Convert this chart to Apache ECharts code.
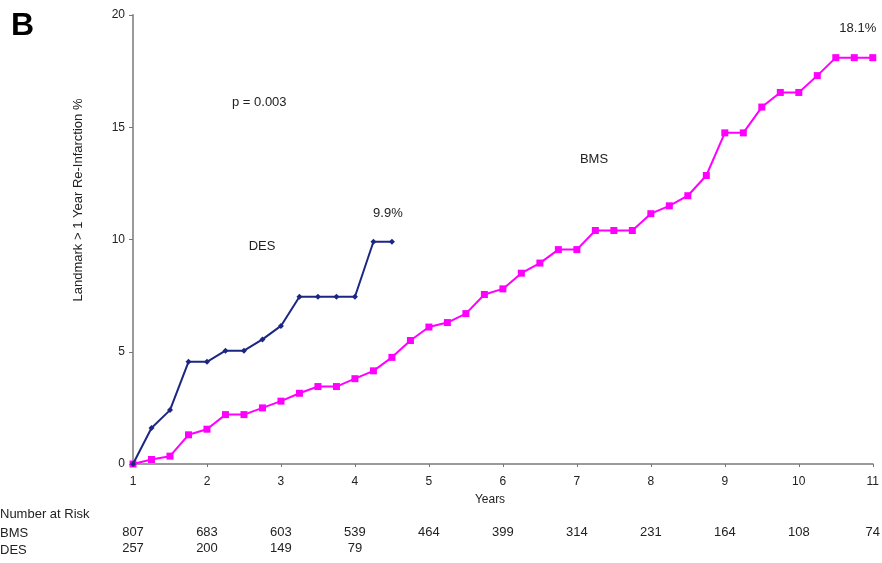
<!DOCTYPE html>
<html>
<head>
<meta charset="utf-8">
<script src="https://cdn.jsdelivr.net/npm/echarts@6/dist/echarts.min.js"></script>
<style>
  html, body { margin: 0; padding: 0; background: #fff; }
  #chart { width: 882px; height: 563px; }
</style>
</head>
<body>
<div id="chart"></div>
<script>
// Landmark analysis beyond 1 year: cumulative re-infarction (%) by stent type
const years = [1, 1.25, 1.5, 1.75, 2, 2.25, 2.5, 2.75, 3, 3.25, 3.5, 3.75, 4, 4.25, 4.5,
  4.75, 5, 5.25, 5.5, 5.75, 6, 6.25, 6.5, 6.75, 7, 7.25, 7.5, 7.75, 8, 8.25, 8.5, 8.75,
  9, 9.25, 9.5, 9.75, 10, 10.25, 10.5, 10.75, 11];

const desValues = [0, 1.6, 2.4, 4.55, 4.55, 5.05, 5.05, 5.55, 6.15, 7.45, 7.45, 7.45, 7.45, 9.9, 9.9];

const bmsValues = [0, 0.2, 0.35, 1.3, 1.55, 2.2, 2.2, 2.5, 2.8, 3.15, 3.45, 3.45, 3.8, 4.15, 4.75,
  5.5, 6.1, 6.3, 6.7, 7.55, 7.8, 8.5, 8.95, 9.55, 9.55, 10.4, 10.4, 10.4, 11.15, 11.5, 11.95, 12.85,
  14.75, 14.75, 15.9, 16.55, 16.55, 17.3, 18.1, 18.1, 18.1];

// Number at risk table
const riskYears = [1, 2, 3, 4, 5, 6, 7, 8, 9, 10, 11];
const bmsAtRisk = [807, 683, 603, 539, 464, 399, 314, 231, 164, 108, 74];
const desAtRisk = [257, 200, 149, 79];

const font = 'Liberation Sans, Arial, sans-serif';
const textColor = '#222';

const chart = echarts.init(document.getElementById('chart'), null, { renderer: 'canvas' });

const desData = desValues.map((v, i) => [years[i], v]);
const bmsData = bmsValues.map((v, i) => [years[i], v]);

chart.setOption({
  animation: false,
  backgroundColor: '#fff',
  grid: { left: 133, right: 5, top: 15, bottom: 99, containLabel: false },
  xAxis: {
    type: 'value', min: 1, max: 11, interval: 1,
    axisLine: { lineStyle: { color: '#9a9a9a', width: 2 } },
    axisTick: { show: true, length: 3, lineStyle: { color: '#777' } },
    axisLabel: { color: textColor, fontFamily: font, fontSize: 12, margin: 12 },
    splitLine: { show: false }
  },
  yAxis: {
    type: 'value', min: 0, max: 20, interval: 5,
    axisLine: { show: true, lineStyle: { color: '#9a9a9a', width: 2 } },
    axisTick: { show: true, length: 4, lineStyle: { color: '#777' } },
    axisLabel: { color: textColor, fontFamily: font, fontSize: 12, margin: 8 },
    splitLine: { show: false }
  },
  series: [
    {
      name: 'BMS', type: 'line', data: bmsData,
      symbol: 'rect', symbolSize: 7,
      itemStyle: { color: '#ff00ff' },
      lineStyle: { color: '#ff00ff', width: 2 },
      z: 2
    },
    {
      name: 'DES', type: 'line', data: desData,
      symbol: 'diamond', symbolSize: 6,
      itemStyle: { color: '#1c2683' },
      lineStyle: { color: '#1c2683', width: 2 },
      z: 3
    }
  ]
});

// Labels anchored to data coordinates
const px = (x, y) => chart.convertToPixel({ gridIndex: 0 }, [x, y]);
const desEnd = px(years[desValues.length - 1], desValues[desValues.length - 1]);
const bmsEnd = px(years[bmsValues.length - 1], bmsValues[bmsValues.length - 1]);

const graphics = [
  { type: 'text', x: 11, y: 26, style: { text: 'B', font: 'bold 32px ' + font, fill: '#000', verticalAlign: 'middle' } },
  {
    type: 'text', x: 78, y: 200, rotation: Math.PI / 2,
    style: { text: 'Landmark > 1 Year Re-Infarction %', font: '13px ' + font, fill: textColor, align: 'center', verticalAlign: 'middle' }
  },
  { type: 'text', x: 232, y: 102, style: { text: 'p = 0.003', font: '13px ' + font, fill: textColor, verticalAlign: 'middle' } },
  { type: 'text', x: 262, y: 246, style: { text: 'DES', font: '13px ' + font, fill: textColor, align: 'center', verticalAlign: 'middle' } },
  { type: 'text', x: 594, y: 159, style: { text: 'BMS', font: '13px ' + font, fill: textColor, align: 'center', verticalAlign: 'middle' } },
  { type: 'text', x: desEnd[0] - 4, y: desEnd[1] - 28, style: { text: desValues[desValues.length - 1].toFixed(1) + '%', font: '13px ' + font, fill: textColor, align: 'center', verticalAlign: 'middle' } },
  { type: 'text', x: bmsEnd[0] - 15, y: bmsEnd[1] - 29, style: { text: bmsValues[bmsValues.length - 1].toFixed(1) + '%', font: '13px ' + font, fill: textColor, align: 'center', verticalAlign: 'middle' } },
  { type: 'text', x: 490, y: 500, style: { text: 'Years', font: '12px ' + font, fill: textColor, align: 'center', verticalAlign: 'middle' } },
  { type: 'text', x: 0, y: 514, style: { text: 'Number at Risk', font: '13px ' + font, fill: textColor, verticalAlign: 'middle' } },
  { type: 'text', x: 0, y: 533, style: { text: 'BMS', font: '13px ' + font, fill: textColor, verticalAlign: 'middle' } },
  { type: 'text', x: 0, y: 550, style: { text: 'DES', font: '13px ' + font, fill: textColor, verticalAlign: 'middle' } }
];

riskYears.forEach((yr, i) => {
  const p = px(yr, 0);
  graphics.push({ type: 'text', x: p[0], y: 532, style: { text: String(bmsAtRisk[i]), font: '13px ' + font, fill: textColor, align: 'center', verticalAlign: 'middle' } });
  if (i < desAtRisk.length) {
    graphics.push({ type: 'text', x: p[0], y: 548, style: { text: String(desAtRisk[i]), font: '13px ' + font, fill: textColor, align: 'center', verticalAlign: 'middle' } });
  }
});

chart.setOption({ graphic: graphics });
</script>
</body>
</html>
